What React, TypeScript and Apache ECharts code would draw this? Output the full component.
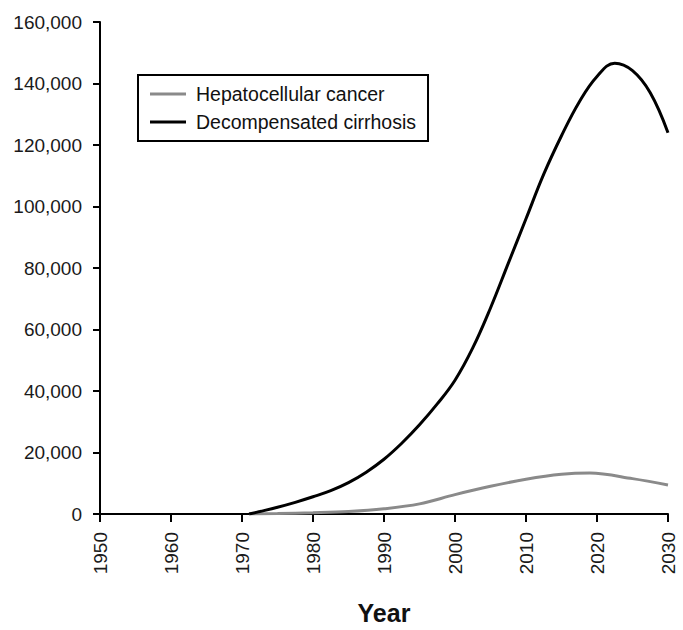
import React, { useEffect, useRef } from "react";
import * as echarts from "echarts";

const yearTicks = [1950, 1960, 1970, 1980, 1990, 2000, 2010, 2020, 2030];
const hccYears = [1971, 1975, 1980, 1985, 1990, 1995, 2000, 2005, 2010, 2015, 2019, 2025, 2030];
const hccValues = [0, 150, 400, 800, 1700, 3300, 6300, 9000, 11300, 12900, 13300, 11500, 9400];
const cirrYears = [
  1971, 1972.5, 1975, 1977.5, 1980, 1982.5, 1985, 1987.5, 1990, 1992.5, 1995, 1997.5, 2000,
  2002.5, 2005, 2007.5, 2010, 2012.5, 2015, 2017.5, 2020, 2022.5, 2025, 2027.5, 2030,
];
const cirrValues = [
  0, 800, 2200, 3800, 5600, 7600, 10200, 13600, 17800, 23000, 29000, 35800, 43500,
  54000, 67000, 81500, 96000, 110500, 123000, 134000, 142300, 146600, 144200, 137000, 124000,
];

export default function App() {
  const ref = useRef<HTMLDivElement>(null);
  useEffect(() => {
    if (!ref.current) return;
    const chart = echarts.init(ref.current, null, { renderer: "svg" });
    const font = "Liberation Sans, Arial, sans-serif";
    chart.setOption({
      animation: false,
      backgroundColor: "#fff",
      grid: { left: 100, right: 15, top: 22, bottom: 112, containLabel: false },
      legend: {
        left: 138,
        top: 75,
        orient: "vertical",
        borderColor: "#000",
        borderWidth: 2,
        borderRadius: 0,
        padding: [9, 12, 9, 12],
        itemWidth: 36,
        itemHeight: 3,
        itemGap: 8,
        icon: "rect",
        textStyle: { fontFamily: font, fontSize: 19.5, color: "#111", padding: [0, 0, 0, 5] },
        data: ["Hepatocellular cancer", "Decompensated cirrhosis"],
      },
      xAxis: {
        type: "value",
        min: 1950,
        max: 2030,
        interval: 10,
        name: "Year",
        nameLocation: "middle",
        nameGap: 86,
        nameTextStyle: { fontFamily: font, fontSize: 25, fontWeight: "bold", color: "#111" },
        axisLine: { lineStyle: { color: "#000", width: 2 } },
        axisTick: { show: true, length: 8, lineStyle: { color: "#000", width: 2 } },
        axisLabel: {
          rotate: 90,
          fontFamily: font,
          fontSize: 19,
          color: "#1a1a1a",
          margin: 18,
          formatter: (v: number) => String(v),
        },
        splitLine: { show: false },
      },
      yAxis: {
        type: "value",
        min: 0,
        max: 160000,
        interval: 20000,
        axisLine: { show: true, lineStyle: { color: "#000", width: 2 } },
        axisTick: { show: true, length: 7, lineStyle: { color: "#000", width: 2 } },
        axisLabel: {
          fontFamily: font,
          fontSize: 19,
          color: "#1a1a1a",
          margin: 18,
          formatter: (v: number) => v.toLocaleString("en-US"),
        },
        splitLine: { show: false },
      },
      series: [
        {
          name: "Hepatocellular cancer",
          type: "line",
          smooth: 0.35,
          symbol: "none",
          lineStyle: { color: "#8a8a8a", width: 3 },
          itemStyle: { color: "#8a8a8a" },
          data: hccYears.map((y, i) => [y, hccValues[i]]),
        },
        {
          name: "Decompensated cirrhosis",
          type: "line",
          smooth: 0.4,
          symbol: "none",
          lineStyle: { color: "#000", width: 3 },
          itemStyle: { color: "#000" },
          data: cirrYears.map((y, i) => [y, cirrValues[i]]),
        },
      ],
    });
    return () => chart.dispose();
  }, []);
  return <div ref={ref} style={{ width: 683, height: 630, position: "absolute", left: 0, top: 0 }} />;
}
